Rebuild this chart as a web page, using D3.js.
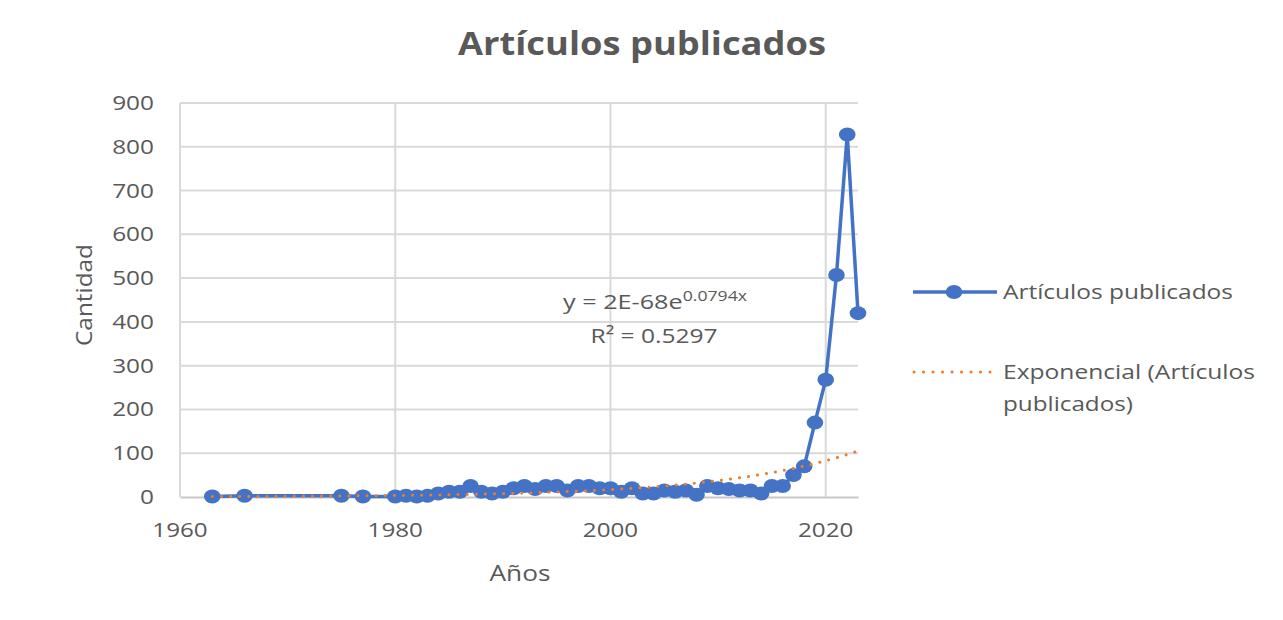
<!DOCTYPE html>
<html>
<head>
<meta charset="utf-8">
<script src="https://cdn.jsdelivr.net/npm/d3@7"></script>
<style>
  body { margin: 0; background: #fff; }
  text { font-family: "Open Sans", "Noto Sans", sans-serif; fill: #595959; }
</style>
</head>
<body>
<svg id="chart" width="1283" height="620"></svg>
<script>
// Data
const years = [1963, 1966, 1975, 1977, 1980, 1981, 1982, 1983, 1984, 1985, 1986, 1987,
  1988, 1989, 1990, 1991, 1992, 1993, 1994, 1995, 1996, 1997, 1998, 1999, 2000, 2001,
  2002, 2003, 2004, 2005, 2006, 2007, 2008, 2009, 2010, 2011, 2012, 2013, 2014, 2015,
  2016, 2017, 2018, 2019, 2020, 2021, 2022, 2023];
const articles = [1, 3, 3, 1, 1, 3, 1, 3, 8, 12, 12, 25,
  12, 8, 12, 20, 25, 18, 25, 25, 15, 25, 25, 20, 20, 12,
  20, 8, 8, 15, 12, 15, 5, 25, 20, 18, 15, 15, 8, 25,
  25, 50, 70, 170, 268, 507, 828, 420];
const xTicks = [1960, 1980, 2000, 2020];
const yTicks = [0, 100, 200, 300, 400, 500, 600, 700, 800, 900];
// Exponential trendline (label shows A rounded to 2E-68; curve drawn ends near 105)
const trendA = 1.83e-68;
const trendB = 0.0794;
const trendR2 = 0.5297;

const svg = d3.select("#chart");
const margin = { top: 103, bottom: 123, left: 180, right: 425 };
const width = +svg.attr("width");
const height = +svg.attr("height");
const innerWidth = width - margin.left - margin.right;
const innerHeight = height - margin.top - margin.bottom;

const blue = "#4472C4";
const orange = "#ED7D31";

// stretch a text horizontally to a target width (reference font is wider)
const fit = (sel, w) =>
  sel.attr("textLength", w).attr("lengthAdjust", "spacingAndGlyphs");
const widen = (sel, k) =>
  sel.each(function () {
    d3.select(this)
      .attr("textLength", this.getComputedTextLength() * k)
      .attr("lengthAdjust", "spacingAndGlyphs");
  });

const data = years.map((y, i) => ({ year: y, value: articles[i] }));

const xScale = d3.scaleLinear().domain([1960, 2023])
  .range([margin.left, margin.left + innerWidth]);
const yScale = d3.scaleLinear().domain([0, 900])
  .range([margin.top + innerHeight, margin.top]);

// Gridlines
svg.append("g")
  .selectAll("line")
  .data(yTicks.slice(1))
  .join("line")
  .attr("x1", xScale(1960)).attr("x2", xScale(2023))
  .attr("y1", d => yScale(d)).attr("y2", d => yScale(d))
  .attr("stroke", "#d9d9d9").attr("stroke-width", 2);
svg.append("g")
  .selectAll("line")
  .data(xTicks)
  .join("line")
  .attr("x1", d => xScale(d)).attr("x2", d => xScale(d))
  .attr("y1", yScale(900)).attr("y2", yScale(0))
  .attr("stroke", "#d9d9d9").attr("stroke-width", 2);

// x axis line
const xAxis = d3.axisBottom(xScale).tickValues([]).tickSizeOuter(0);
svg.append("g").attr("transform", `translate(0,${yScale(0)})`).call(xAxis)
  .select(".domain").attr("stroke", "#c8c8c8").attr("stroke-width", 2);

// Tick labels
svg.selectAll("text.ytick")
  .data(yTicks)
  .join("text")
  .attr("class", "ytick")
  .attr("x", xScale(1960) - 26)
  .attr("y", d => yScale(d) + 7)
  .attr("text-anchor", "end")
  .attr("font-size", "19.5px")
  .text(d => d)
  .call(widen, 1.25);
svg.selectAll("text.xtick")
  .data(xTicks)
  .join("text")
  .attr("class", "xtick")
  .attr("x", d => xScale(d))
  .attr("y", yScale(0) + 40)
  .attr("text-anchor", "middle")
  .attr("font-size", "19.5px")
  .text(d => d)
  .call(widen, 1.24);

// Axis titles
svg.append("text")
  .attr("transform", `translate(92,${margin.top + innerHeight / 2 - 5}) rotate(-90)`)
  .attr("text-anchor", "middle")
  .attr("font-size", "21px")
  .text("Cantidad")
  .call(fit, 102);
svg.append("text")
  .attr("x", margin.left + innerWidth / 2 + 1)
  .attr("y", yScale(0) + 84)
  .attr("text-anchor", "middle")
  .attr("font-size", "21px")
  .text("Años")
  .call(fit, 61);

// Series line + markers
const line = d3.line().x(d => xScale(d.year)).y(d => yScale(d.value));
svg.append("path")
  .datum(data)
  .attr("d", line)
  .attr("fill", "none")
  .attr("stroke", blue)
  .attr("stroke-width", 3.5)
  .attr("stroke-linejoin", "round");
svg.selectAll("ellipse.pt")
  .data(data)
  .join("ellipse")
  .attr("class", "pt")
  .attr("cx", d => xScale(d.year))
  .attr("cy", d => yScale(d.value))
  .attr("rx", 8.3)
  .attr("ry", 7)
  .attr("fill", blue);

// Exponential trendline
const trendData = d3.range(years[0], years[years.length - 1] + 0.01, 0.5)
  .map(x => ({ year: x, value: trendA * Math.exp(trendB * x) }));
svg.append("path")
  .datum(trendData)
  .attr("d", line)
  .attr("fill", "none")
  .attr("stroke", orange)
  .attr("stroke-width", 3)
  .attr("stroke-linecap", "round")
  .attr("stroke-dasharray", "0.1 9");

// Trendline label
const eq = svg.append("text")
  .attr("x", 655)
  .attr("y", 309)
  .attr("text-anchor", "middle")
  .attr("font-size", "20px");
eq.append("tspan").text("y = 2E-68e");
eq.append("tspan").attr("dy", -8).attr("font-size", "14px").text("0.0794x");
eq.call(fit, 184);
svg.append("text")
  .attr("x", 654)
  .attr("y", 343)
  .attr("text-anchor", "middle")
  .attr("font-size", "20px")
  .text(`R² = ${trendR2}`)
  .call(fit, 127);

// Title
svg.append("text")
  .attr("x", 642)
  .attr("y", 55)
  .attr("text-anchor", "middle")
  .attr("font-size", "31.5px")
  .attr("font-weight", "bold")
  .text("Artículos publicados")
  .call(fit, 368);

// Legend
const legend = svg.append("g").attr("transform", "translate(913,292)");
legend.append("line")
  .attr("x1", 0).attr("x2", 84)
  .attr("stroke", blue).attr("stroke-width", 3.5);
legend.append("ellipse").attr("cx", 41).attr("rx", 8.3).attr("ry", 7).attr("fill", blue);
legend.append("text")
  .attr("x", 90).attr("y", 7)
  .attr("font-size", "20px")
  .text("Artículos publicados")
  .call(fit, 230);

const legend2 = svg.append("g").attr("transform", "translate(913,372)");
legend2.append("line")
  .attr("x1", 1).attr("x2", 77)
  .attr("stroke", orange).attr("stroke-width", 3)
  .attr("stroke-linecap", "round")
  .attr("stroke-dasharray", "0.1 9.4");
legend2.append("text")
  .attr("x", 90).attr("y", 7)
  .attr("font-size", "20px")
  .text("Exponencial (Artículos")
  .call(fit, 252);
legend2.append("text")
  .attr("x", 90).attr("y", 39)
  .attr("font-size", "20px")
  .text("publicados)")
  .call(fit, 130);
</script>
</body>
</html>
